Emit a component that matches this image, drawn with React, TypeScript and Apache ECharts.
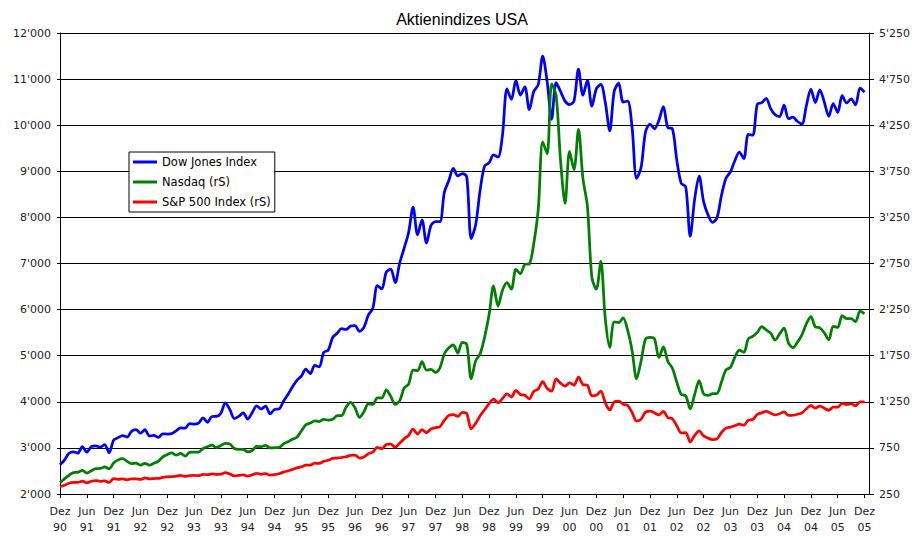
import React, { useEffect, useRef } from "react";
import * as echarts from "echarts";

// Monthly closes, Dec 1990 .. Dec 2005
const dow = [
  2634,
  2736, 2882, 2914, 2888, 3028, 2907, 3025, 3044, 3017, 3069, 2895, 3169,
  3223, 3268, 3235, 3359, 3397, 3319, 3394, 3257, 3272, 3226, 3305, 3301,
  3310, 3371, 3435, 3428, 3527, 3516, 3539, 3651, 3555, 3681, 3684, 3754,
  3978, 3832, 3636, 3682, 3758, 3625, 3765, 3913, 3843, 3908, 3739, 3834,
  3844, 4011, 4158, 4321, 4465, 4556, 4708, 4611, 4789, 4755, 5074, 5117,
  5395, 5486, 5587, 5569, 5643, 5655, 5529, 5616, 5882, 6029, 6522, 6448,
  6813, 6878, 6583, 7009, 7331, 7673, 8223, 7622, 7945, 7442, 7823, 7908,
  7907, 8546, 8800, 9063, 8900, 8952, 8883, 7539, 7843, 8592, 9117, 9181,
  9359, 9307, 9786, 10789, 10560, 10971, 10655, 10829, 10337, 10730, 10878, 11497,
  10941, 10128, 10922, 10734, 10522, 10448, 10522, 11215, 10651, 10971, 10414, 10788,
  10887, 10495, 9879, 10735, 10912, 10502, 10523, 9950, 8848, 9075, 9852, 10022,
  9920, 10106, 10404, 9946, 9925, 9243, 8737, 8664, 7592, 8397, 8896, 8342,
  8054, 7891, 7992, 8480, 8850, 8985, 9234, 9416, 9275, 9801, 9782, 10454,
  10488, 10584, 10358, 10226, 10188, 10435, 10140, 10174, 10080, 10027, 10428, 10783,
  10490, 10766, 10504, 10193, 10467, 10275, 10641, 10482, 10569, 10440, 10806, 10718,
];

const nasdaq = [
  374,
  414, 453, 482, 485, 506, 476, 502, 526, 527, 543, 524, 586,
  620, 633, 604, 579, 585, 564, 581, 563, 583, 605, 653, 677,
  696, 671, 690, 661, 701, 704, 705, 743, 763, 779, 754, 777,
  800, 793, 743, 734, 735, 706, 722, 766, 764, 777, 750, 752,
  755, 794, 817, 844, 865, 933, 1001, 1020, 1044, 1036, 1059, 1052,
  1060, 1100, 1101, 1191, 1243, 1185, 1081, 1142, 1227, 1222, 1293, 1291,
  1380, 1309, 1222, 1261, 1400, 1442, 1594, 1587, 1686, 1594, 1601, 1570,
  1619, 1771, 1836, 1868, 1779, 1895, 1872, 1499, 1694, 1771, 1950, 2193,
  2506, 2288, 2461, 2543, 2471, 2686, 2638, 2739, 2746, 2966, 3336, 4069,
  3940, 4697, 4573, 3861, 3401, 3966, 3767, 4206, 3673, 3370, 2598, 2471,
  2773, 2152, 1840, 2116, 2110, 2161, 2027, 1805, 1499, 1690, 1931, 1950,
  1934, 1731, 1845, 1688, 1616, 1463, 1328, 1315, 1172, 1330, 1479, 1336,
  1321, 1338, 1341, 1464, 1596, 1623, 1735, 1810, 1787, 1932, 1960, 2003,
  2066, 2030, 1994, 1920, 1987, 2048, 1887, 1838, 1897, 1975, 2097, 2175,
  2062, 2052, 1999, 1922, 2068, 2057, 2185, 2152, 2152, 2120, 2233, 2205,
];

const sp500 = [
  330,
  344, 367, 375, 375, 390, 371, 388, 395, 388, 392, 375, 417,
  409, 413, 404, 415, 415, 408, 424, 414, 418, 419, 431, 436,
  439, 443, 452, 440, 450, 451, 448, 464, 459, 468, 462, 466,
  482, 467, 446, 451, 457, 444, 458, 475, 463, 472, 454, 459,
  470, 487, 501, 515, 533, 545, 562, 562, 584, 582, 605, 616,
  636, 640, 646, 654, 669, 671, 640, 652, 687, 705, 757, 741,
  786, 791, 757, 801, 848, 885, 954, 899, 947, 915, 955, 970,
  980, 1049, 1102, 1112, 1091, 1134, 1121, 957, 1017, 1099, 1164, 1229,
  1280, 1238, 1286, 1335, 1302, 1373, 1329, 1320, 1283, 1363, 1389, 1469,
  1394, 1366, 1499, 1452, 1421, 1455, 1431, 1518, 1437, 1429, 1315, 1320,
  1366, 1240, 1160, 1249, 1256, 1224, 1211, 1134, 1041, 1060, 1139, 1148,
  1130, 1107, 1147, 1077, 1067, 990, 912, 916, 815, 886, 936, 880,
  856, 841, 848, 917, 964, 975, 990, 1008, 996, 1051, 1058, 1112,
  1131, 1145, 1126, 1107, 1121, 1141, 1102, 1104, 1115, 1130, 1174, 1212,
  1181, 1204, 1181, 1157, 1192, 1191, 1234, 1220, 1229, 1207, 1249, 1248,
];

const rightTicks = [250, 750, 1250, 1750, 2250, 2750, 3250, 3750, 4250, 4750, 5250];

const monthNames = ["Jan", "Feb", "Mär", "Apr", "Mai", "Jun", "Jul", "Aug", "Sep", "Okt", "Nov", "Dez"];
// Dec 1990 .. Jan 2006 (axis runs one month past the last data point)
const months: string[] = [];
for (let i = 0; i < 182; i++) {
  const m = (11 + i) % 12;
  const y = 1990 + Math.floor((11 + i) / 12);
  months.push(y + "-" + (m + 1));
}

const fmt = (v: number) => String(v).replace(/\B(?=(\d{3})+(?!\d))/g, "'");
const FONT = "DejaVu Sans";

export default function App() {
  const ref = useRef<HTMLDivElement>(null);
  useEffect(() => {
    const chart = echarts.init(ref.current!, null, { renderer: "svg" });
    chart.setOption({
      animation: false,
      backgroundColor: "#fff",
      textStyle: { fontFamily: FONT },
      title: {
        text: "Aktienindizes USA",
        left: 457,
        top: 6,
        textAlign: "center",
        textStyle: { fontFamily: "Liberation Sans", fontSize: 16, fontWeight: "normal", color: "#000" },
      },
      legend: {
        orient: "vertical",
        left: 129,
        top: 152,
        icon: "rect",
        itemWidth: 24,
        itemHeight: 3,
        itemGap: 6,
        padding: [3, 4, 3, 4],
        backgroundColor: "#fff",
        borderColor: "#000",
        borderWidth: 1,
        borderRadius: 0,
        textStyle: { fontFamily: FONT, fontSize: 11.5, color: "#000", lineHeight: 14 },
        data: ["Dow Jones Index", "Nasdaq (rS)", "S&P 500 Index (rS)"],
      },
      grid: { left: 60, right: 44, top: 33, bottom: 44, containLabel: false },
      xAxis: {
        type: "category",
        data: months,
        boundaryGap: false,
        axisLine: { lineStyle: { color: "#000", width: 1 } },
        axisTick: {
          interval: (i: number) => i % 6 === 0,
          length: 4,
          lineStyle: { color: "#000" },
        },
        axisLabel: {
          interval: (i: number) => i % 6 === 0,
          formatter: (v: string) => {
            const [y, m] = v.split("-").map(Number);
            return monthNames[m - 1] + "\n" + String(y).slice(2);
          },
          fontFamily: FONT,
          fontSize: 11,
          lineHeight: 16,
          margin: 9,
          color: "#222",
        },
        splitLine: { show: false },
      },
      yAxis: [
        {
          type: "value",
          min: 2000,
          max: 12000,
          interval: 1000,
          position: "left",
          axisLine: { show: true, lineStyle: { color: "#000" } },
          axisTick: { show: true, length: 3, lineStyle: { color: "#000" } },
          axisLabel: { formatter: fmt, fontFamily: FONT, fontSize: 11, color: "#222", margin: 9 },
          splitLine: { show: true, lineStyle: { color: "#000", width: 1 } },
        },
        {
          type: "value",
          min: 250,
          max: 5250,
          position: "right",
          axisLine: { show: true, lineStyle: { color: "#000" } },
          axisTick: { show: true, length: 5, customValues: rightTicks, lineStyle: { color: "#000" } },
          axisLabel: {
            customValues: rightTicks,
            formatter: fmt,
            fontFamily: FONT,
            fontSize: 11,
            color: "#222",
            margin: 10,
          },
          splitLine: { show: false },
        },
      ],
      series: [
        {
          name: "Dow Jones Index",
          type: "line",
          yAxisIndex: 0,
          data: dow,
          showSymbol: false,
          smooth: 0.3,
          color: "#0000ff",
          lineStyle: { color: "#0000ff", width: 2.75 },
        },
        {
          name: "Nasdaq (rS)",
          type: "line",
          yAxisIndex: 1,
          data: nasdaq,
          showSymbol: false,
          smooth: 0.3,
          color: "#008000",
          lineStyle: { color: "#008000", width: 2.75 },
        },
        {
          name: "S&P 500 Index (rS)",
          type: "line",
          yAxisIndex: 1,
          data: sp500,
          showSymbol: false,
          smooth: 0.3,
          color: "#ff0000",
          lineStyle: { color: "#ff0000", width: 2.75 },
        },
      ],
    });
    return () => chart.dispose();
  }, []);
  return (
    <div
      ref={ref}
      style={{ position: "fixed", left: 0, top: 0, width: 913, height: 538 }}
    />
  );
}
